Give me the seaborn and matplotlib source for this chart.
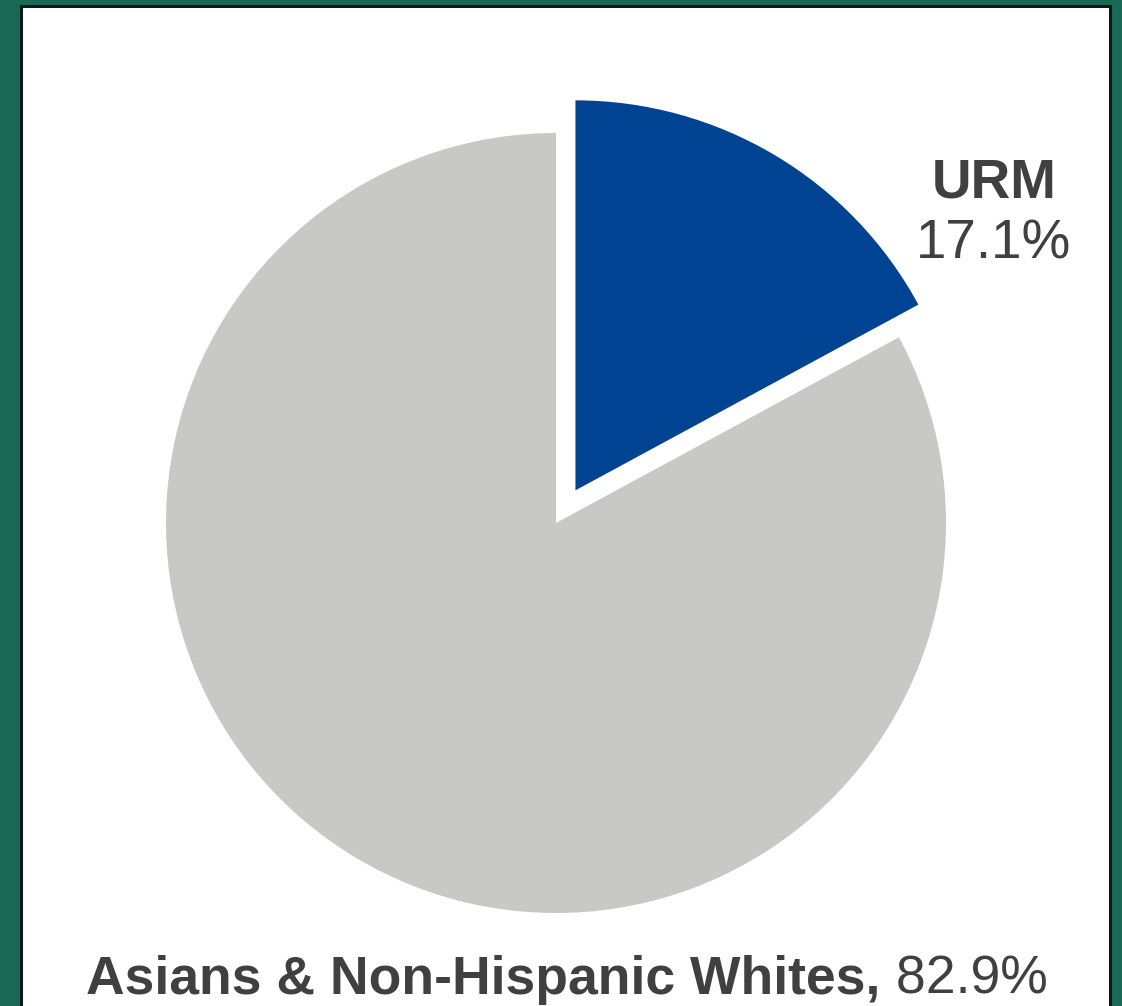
import matplotlib
matplotlib.use("Agg")
import matplotlib.pyplot as plt
from matplotlib.patches import Rectangle
import seaborn as sns

# Data
labels = ["URM", "Asians & Non-Hispanic Whites"]
shares = [17.1, 82.9]
colors = ["#004392", "#C8C8C6"]

sns.set_theme(style="white")
plt.rcParams['font.family'] = ['Liberation Sans', 'DejaVu Sans']

W, H = 1122, 1006
fig = plt.figure(figsize=(W / 100, H / 100), dpi=100)
fig.patch.set_facecolor("#1B6856")

# one axes in pixel units, y going up
ax = fig.add_axes([0, 0, 1, 1])
ax.set_facecolor("none")

# white panel with a thin dark border
ax.add_patch(Rectangle((21, -10), 1089, H - 6 + 10, facecolor="white",
                       edgecolor="#0c1a14", linewidth=2.2, zorder=0))

# Pie (center / radius in pixels)
cx, cy, r = 556, H - 523, 390
wedges, _ = ax.pie(shares, colors=colors, startangle=90, counterclock=False,
                   radius=r, center=(cx, cy), explode=[38, 0],
                   wedgeprops=dict(linewidth=0))
for w in wedges:
    w.set_zorder(2)

ax.set_xlim(0, W)
ax.set_ylim(0, H)
ax.set_aspect("auto")
ax.axis("off")

txt_color = "#404040"
ax.text(994, H - 197, labels[0], ha="center", va="baseline", fontsize=39.5,
        fontweight="bold", color=txt_color)
ax.text(994, H - 258, f"{shares[0]}%", ha="center", va="baseline",
        fontsize=39.5, color=txt_color)

# bottom label: bold name + normal percentage, centred together
renderer = fig.canvas.get_renderer()
t1 = ax.text(0, H - 994, labels[1] + ",", ha="left", va="baseline",
             fontsize=38.5, fontweight="bold", color=txt_color)
t2 = ax.text(0, H - 994, f" {shares[1]}%", ha="left", va="baseline",
             fontsize=38.5, color=txt_color)
w1 = t1.get_window_extent(renderer).width
w2 = t2.get_window_extent(renderer).width
x0 = 567 - (w1 + w2) / 2
t1.set_x(x0)
t2.set_x(x0 + w1)

fig.savefig("out.png", dpi=100, facecolor=fig.get_facecolor())
